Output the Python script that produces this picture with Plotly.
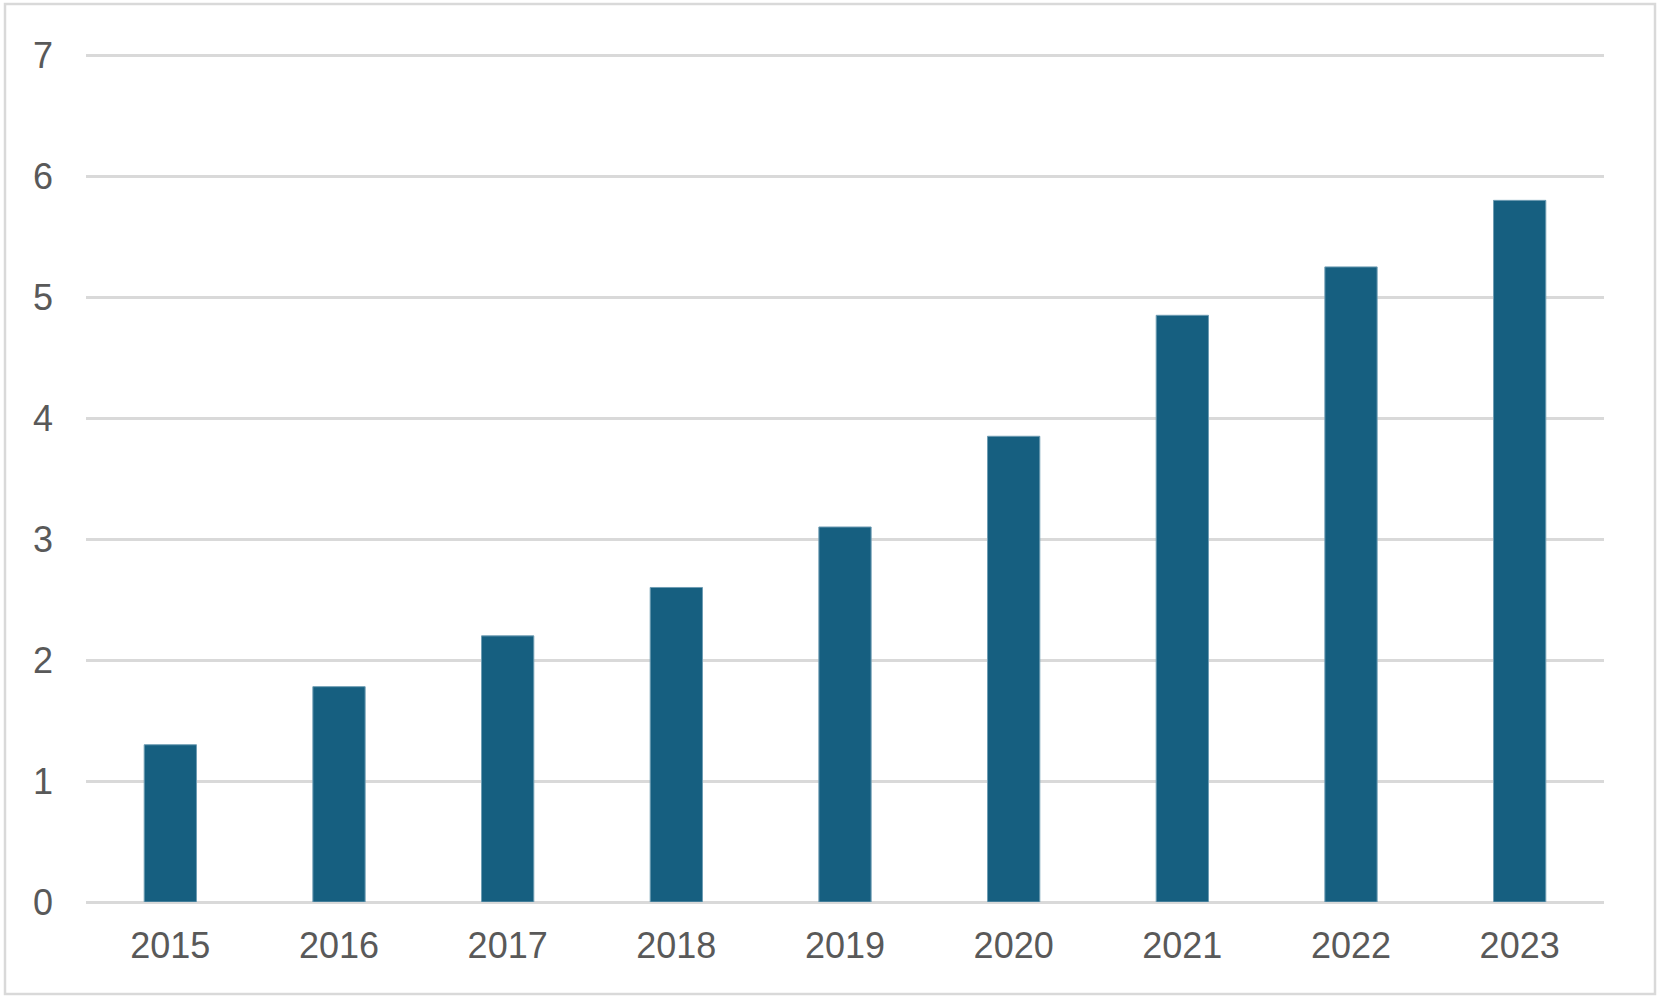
import plotly.graph_objects as go

years = ["2015", "2016", "2017", "2018", "2019", "2020", "2021", "2022", "2023"]
values = [1.30, 1.78, 2.20, 2.60, 3.10, 3.85, 4.85, 5.25, 5.80]
y_ticks = [0, 1, 2, 3, 4, 5, 6, 7]

W, H = 1663, 1003
L, R, T, B = 86, 59, 54, 101

fig = go.Figure(go.Bar(
    x=years, y=values,
    marker=dict(color="#165F80", line=dict(color="#6F9DB3", width=1)),
))

pw = W - L - R
ph = H - T - B
fig.add_shape(type="rect", xref="paper", yref="paper",
              x0=(5 - L) / pw, x1=(1655 - L) / pw,
              y0=(H - B - 994) / ph, y1=(H - B - 4) / ph,
              line=dict(color="#D9D9D9", width=2.5), fillcolor="rgba(0,0,0,0)", layer="below")

fig.update_layout(
    width=W, height=H,
    margin=dict(l=L, r=R, t=T, b=B, pad=0),
    paper_bgcolor="white", plot_bgcolor="white",
    bargap=0.69,
    showlegend=False,
    font=dict(family="Liberation Sans, Arial, sans-serif", size=36, color="#595959"),
    xaxis=dict(showgrid=False, showline=False, zeroline=False, ticks="",
               ticklabelstandoff=19, tickfont=dict(size=36, color="#595959")),
    yaxis=dict(range=[0, 7.01], tickvals=y_ticks, showgrid=True, gridcolor="#D9D9D9", gridwidth=2.5,
               zeroline=True, zerolinecolor="#D9D9D9", zerolinewidth=2.5, showline=False, ticks="",
               ticklabelstandoff=32, tickfont=dict(size=36, color="#595959")),
)

fig.write_html("out.html", config={"displayModeBar": False},
               post_script="document.body.style.margin='0';")
